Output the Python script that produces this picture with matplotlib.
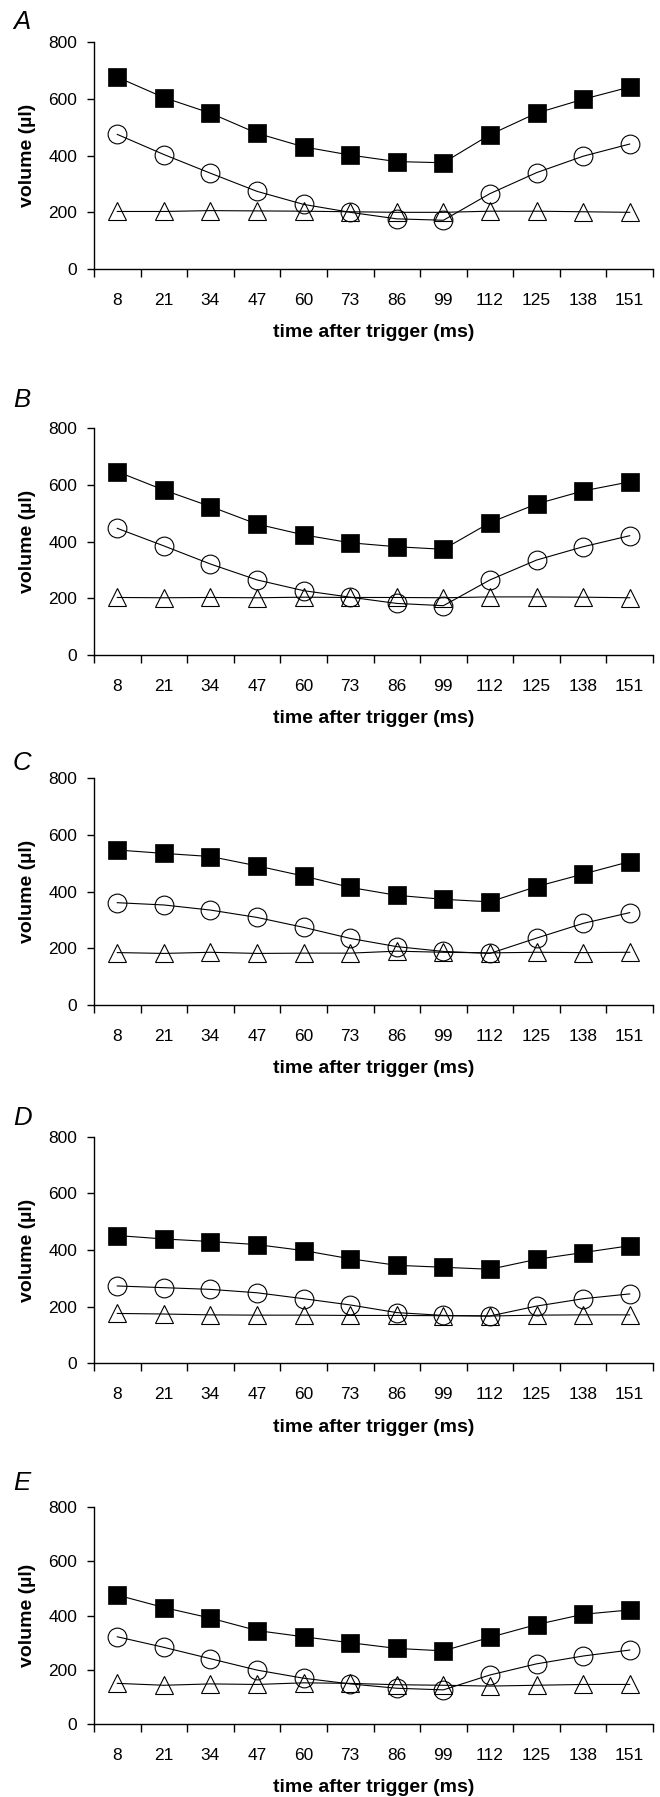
import numpy as np
import matplotlib
matplotlib.use("Agg")
import matplotlib.pyplot as plt
from matplotlib.ticker import FixedLocator, NullFormatter

plt.rcParams["font.family"] = ["Liberation Sans", "DejaVu Sans"]

# time after trigger (ms)
times = [8, 21, 34, 47, 60, 73, 86, 99, 112, 125, 138, 151]

# panel A
A_sq = [677, 605, 550, 479, 431, 402, 379, 375, 474, 550, 599, 642]
A_ci = [475, 404, 338, 274, 228, 200, 177, 172, 266, 340, 398, 441]
A_tr = [203, 203, 206, 205, 204, 202, 200, 200, 204, 204, 202, 200]
# panel B
B_sq = [647, 582, 524, 462, 424, 396, 382, 373, 467, 533, 579, 611]
B_ci = [447, 385, 321, 265, 227, 204, 182, 174, 265, 335, 382, 421]
B_tr = [203, 202, 203, 202, 204, 203, 203, 202, 205, 205, 204, 202]
# panel C
C_sq = [547, 535, 524, 491, 455, 415, 387, 373, 364, 418, 462, 506]
C_ci = [361, 353, 335, 309, 274, 235, 206, 189, 182, 236, 288, 326]
C_tr = [185, 182, 186, 182, 183, 183, 190, 186, 184, 186, 185, 186]
# panel D
D_sq = [451, 439, 430, 419, 398, 369, 346, 339, 332, 367, 391, 415]
D_ci = [273, 267, 261, 249, 228, 206, 179, 169, 167, 202, 228, 245]
D_tr = [176, 174, 171, 170, 170, 169, 169, 168, 167, 170, 171, 171]
# panel E
E_sq = [476, 430, 391, 345, 322, 300, 279, 270, 320, 367, 405, 421]
E_ci = [322, 283, 241, 199, 169, 148, 132, 126, 181, 222, 251, 273]
E_tr = [150, 143, 148, 146, 152, 150, 145, 143, 140, 143, 146, 146]

panels = [("A", A_sq, A_ci, A_tr),
          ("B", B_sq, B_ci, B_tr),
          ("C", C_sq, C_ci, C_tr),
          ("D", D_sq, D_ci, D_tr),
          ("E", E_sq, E_ci, E_tr)]

W, H = 660.0, 1797.0
# axes boxes in pixels: (top, bottom) of plot area
boxes = [(42.3, 269.0), (428.3, 655.0), (778.3, 1005.0), (1136.7, 1363.3), (1507.3, 1724.0)]
label_y = [22, 400, 763, 1118, 1483]
left_px, right_px = 94.0, 653.0

fig = plt.figure(figsize=(W / 100, H / 100), dpi=100)

x = np.arange(len(times))
for (name, sq, ci, tr), (top, bot), ly in zip(panels, boxes, label_y):
    ax = fig.add_axes([left_px / W, 1 - bot / H, (right_px - left_px) / W, (bot - top) / H])
    ax.plot(x, tr, color='k', lw=0.8, marker='^', markersize=13.5,
            markerfacecolor='none', markeredgecolor='k', markeredgewidth=0.8)
    ax.plot(x, ci, color='k', lw=0.8, marker='o', markersize=13.5,
            markerfacecolor='none', markeredgecolor='k', markeredgewidth=0.8)
    ax.plot(x, sq, color='k', lw=0.8, marker='s', markersize=13,
            markerfacecolor='k', markeredgecolor='k', markeredgewidth=0.5)

    ax.set_xlim(-0.5, len(times) - 0.5)
    ax.set_ylim(0, 800)
    ax.set_yticks([0, 200, 400, 600, 800])
    ax.set_xticks(x)
    ax.set_xticklabels([str(t) for t in times])
    # category boundary ticks
    ax.xaxis.set_minor_locator(FixedLocator(np.arange(-0.5, len(times), 1.0)))
    ax.xaxis.set_minor_formatter(NullFormatter())
    ax.tick_params(axis='x', which='major', length=0, pad=17, labelsize=12.5)
    ax.tick_params(axis='x', which='minor', length=5.5, width=1.0, direction='out')
    ax.tick_params(axis='y', which='major', length=5, width=1.0, pad=7, labelsize=12.5)

    for s in ['top', 'right']:
        ax.spines[s].set_visible(False)
    for s in ['left', 'bottom']:
        ax.spines[s].set_linewidth(1.0)

    ax.set_xlabel('time after trigger (ms)', fontsize=14, fontweight='bold', labelpad=12)
    ax.set_ylabel('volume (\u00b5l)', fontsize=14, fontweight='bold', labelpad=9)

    fig.text(13 / W, 1 - ly / H, name, fontsize=18.5, fontstyle='italic',
             ha='left', va='center')

fig.savefig('out.png', dpi=100)
